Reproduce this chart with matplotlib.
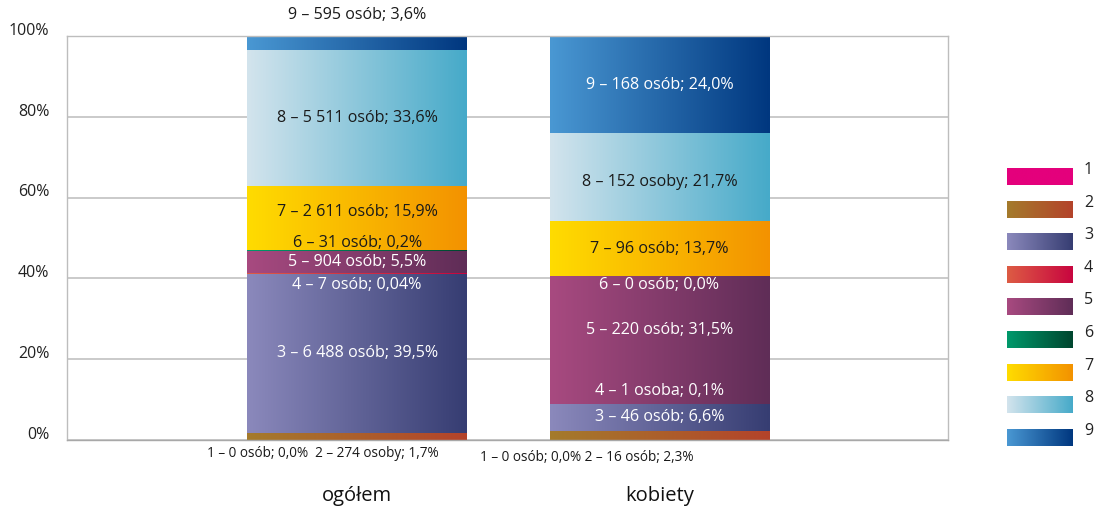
import numpy as np
import matplotlib.pyplot as plt
from matplotlib.colors import LinearSegmentedColormap

plt.rcParams['font.family'] = ['Open Sans', 'DejaVu Sans']

categories = ["ogółem", "kobiety"]
groups = ["1", "2", "3", "4", "5", "6", "7", "8", "9"]

ogolem_pct = [0.0, 1.7, 39.5, 0.04, 5.5, 0.2, 15.9, 33.6, 3.6]
ogolem_n = ["0 osób", "274 osoby", "6 488 osób", "7 osób", "904 osób",
            "31 osób", "2 611 osób", "5 511 osób", "595 osób"]
kobiety_pct = [0.0, 2.3, 6.6, 0.1, 31.5, 0.0, 13.7, 21.7, 24.0]
kobiety_n = ["0 osób", "16 osób", "46 osób", "1 osoba", "220 osób",
             "0 osób", "96 osób", "152 osoby", "168 osób"]

# gradient colours (left, right) for each group
grad_left = ["#e4007c", "#a47b2c", "#8b89bc", "#dd5c44", "#a84a80",
             "#00996b", "#ffdc00", "#d3e4ed", "#4a98d3"]
grad_right = ["#e4007c", "#b4432a", "#363d72", "#c8053f", "#5f2d57",
              "#00462f", "#f39200", "#46aac9", "#00377f"]

# label positions (in %) that are not centred in their segment
label_y = [
    {"9": 105.2, "7": 56.5, "6": 48.8, "4": 38.4},
    {"8": 63.8, "6": 38.4, "5": 27.2, "4": 12.1},
]
bottom_y = [-3.3, -4.3]
bottom_dx = [-0.115, -0.24]
bottom_sep = ["  ", " "]


def fmt_pct(v):
    s = "{:.2f}".format(v) if 0 < v < 0.1 else "{:.1f}".format(v)
    return s.replace(".", ",") + "%"


fig = plt.figure(figsize=(10.96, 5.07), dpi=100)
ax = fig.add_axes([67 / 1096, 67 / 507, 881 / 1096, 404 / 507])

x = np.arange(len(categories))
width = 0.727
data_pct = [ogolem_pct, kobiety_pct]
data_n = [ogolem_n, kobiety_n]

grad = np.linspace(0, 1, 256).reshape(1, -1)
bottoms = np.zeros(len(categories))
for g in range(len(groups)):
    vals = np.array([d[g] for d in data_pct])
    bars = ax.bar(x, vals, width, bottom=bottoms, color="none", zorder=2)
    cmap = LinearSegmentedColormap.from_list("g" + groups[g], [grad_left[g], grad_right[g]])
    for b in bars:
        if b.get_height() <= 0:
            continue
        ax.imshow(grad, cmap=cmap, aspect="auto", zorder=2,
                  extent=[b.get_x(), b.get_x() + b.get_width(),
                          b.get_y(), b.get_y() + b.get_height()])
    bottoms += vals

# segment labels
for c in range(len(categories)):
    cum = np.concatenate([[0], np.cumsum(data_pct[c])])
    for g in range(2, len(groups)):
        txt = "{} – {}; {}".format(groups[g], data_n[c][g], fmt_pct(data_pct[c][g]))
        y = label_y[c].get(groups[g], (cum[g] + cum[g + 1]) / 2)
        seg = np.searchsorted(cum, y) - 1
        dark = seg < 0 or seg >= len(groups) or groups[seg] in ("7", "8")
        ax.text(x[c], y, txt, ha="center", va="center", fontsize=11.6,
                color="#1a1a1a" if dark else "white", zorder=3, clip_on=False)
    txt = "{} – {}; {}{}{} – {}; {}".format(
        groups[0], data_n[c][0], fmt_pct(data_pct[c][0]), bottom_sep[c],
        groups[1], data_n[c][1], fmt_pct(data_pct[c][1]))
    ax.text(x[c] + bottom_dx[c], bottom_y[c], txt, ha="center", va="center",
            fontsize=9.8, color="#1a1a1a", clip_on=False)

ax.set_xlim(-0.96, 1.955)
ax.set_ylim(0, 100)
ax.set_yticks([0, 20, 40, 60, 80, 100])
ax.set_yticklabels([])
ax.tick_params(axis="y", length=0)
for v in [0, 20, 40, 60, 80, 100]:
    ax.text(-0.02, v + 1.3, "{}%".format(v), transform=ax.get_yaxis_transform(),
            ha="right", va="center", fontsize=11.5, color="#222222")
ax.grid(axis="y", color="#c6c6c6", linewidth=1.3)
ax.set_axisbelow(True)
for s in ax.spines.values():
    s.set_color("#bdbdbd")
    s.set_linewidth(1.0)
ax.spines["bottom"].set_color("#a8a8a8")

ax.set_xticks(x)
ax.set_xticklabels(categories, fontsize=14.5, color="#111111")
ax.tick_params(axis="x", length=0, pad=33)

# legend
lax = fig.add_axes([1000 / 1096, 55 / 507, 96 / 1096, 297 / 507])
lax.set_xlim(1000, 1096)
lax.set_ylim(452, 155)
lax.axis("off")
for g in range(len(groups)):
    top = 168 + 32.6 * g
    cmap = LinearSegmentedColormap.from_list("l" + groups[g], [grad_left[g], grad_right[g]])
    lax.imshow(grad, cmap=cmap, aspect="auto", extent=[1007, 1073, top + 17, top])
    lax.text(1084, top + 2, groups[g], ha="left", va="center", fontsize=11.5, color="#222222")
lax.set_xlim(1000, 1096)
lax.set_ylim(452, 155)

fig.savefig("out.png", dpi=100)
